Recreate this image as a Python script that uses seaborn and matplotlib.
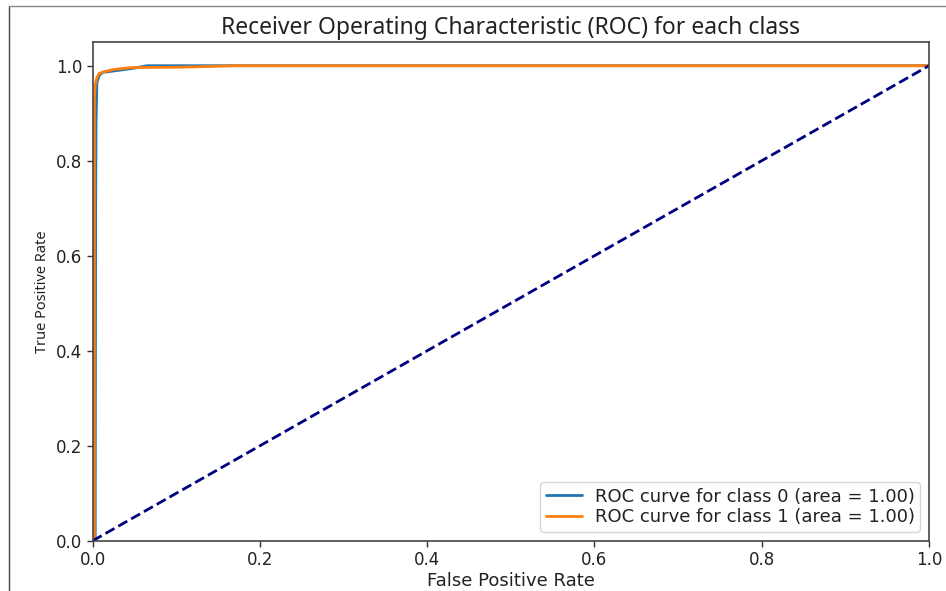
import matplotlib
matplotlib.use("Agg")
import matplotlib.pyplot as plt
import seaborn as sns
import pandas as pd
from matplotlib.lines import Line2D

# ROC points
fpr_class0 = [0.0, 0.003, 0.0035, 0.004, 0.005, 0.008, 0.012, 0.03, 0.05, 0.065, 0.10, 0.17, 1.0]
tpr_class0 = [0.0, 0.0, 0.70, 0.88, 0.965, 0.98, 0.986, 0.99, 0.995, 1.0, 1.0, 1.0, 1.0]
fpr_class1 = [0.0, 0.002, 0.002, 0.003, 0.005, 0.008, 0.015, 0.025, 0.045, 0.11, 0.17, 1.0]
tpr_class1 = [0.0, 0.0, 0.93, 0.96, 0.975, 0.984, 0.988, 0.992, 0.996, 0.997, 1.0, 1.0]
auc_values = [1.00, 1.00]
diag = [0.0, 1.0]

sns.set_style("white")
plt.rcParams['font.family'] = ['DejaVu Sans']
plt.rcParams['font.sans-serif'] = ['DejaVu Sans']

fig, ax = plt.subplots(figsize=(9.46, 5.91), dpi=100)
fig.subplots_adjust(left=0.098, right=0.982, top=0.929, bottom=0.085)

colors = ['#1f77b4', '#ff7f0e']
curves = [(fpr_class0, tpr_class0), (fpr_class1, tpr_class1)]
for i, (f, t) in enumerate(curves):
    d = pd.DataFrame({'fpr': f, 'tpr': t})
    sns.lineplot(data=d, x='fpr', y='tpr', ax=ax, color=colors[i], lw=2, sort=False,
                 estimator=None, label=f'ROC curve for class {i} (area = {auc_values[i]:.2f})')

ax.plot(diag, diag, color='navy', lw=2, linestyle='--')

ax.set_xlim(0.0, 1.0)
ax.set_ylim(0.0, 1.05)
ax.set_xticks([0.0, 0.2, 0.4, 0.6, 0.8, 1.0])
ax.set_yticks([0.0, 0.2, 0.4, 0.6, 0.8, 1.0])
ax.tick_params(axis='both', which='both', length=4, width=1, color='#333333',
               labelsize=12, labelcolor='#222222', direction='out', bottom=True, left=True)
for s in ax.spines.values():
    s.set_color('#444444')
    s.set_linewidth(1.2)

ax.set_xlabel('False Positive Rate', fontsize=13, color='#222222', labelpad=2)
ax.set_ylabel('True Positive Rate', fontsize=10.5, color='#222222', family='Noto Sans')
ax.set_title('Receiver Operating Characteristic (ROC) for each class', fontsize=16.5,
             color='#222222', family='Noto Sans', pad=6)
ax.legend(loc='lower right', fontsize=13, frameon=True, labelcolor='#222222',
          handlelength=2.0, handletextpad=0.7, borderaxespad=0.5,
          labelspacing=0.15, borderpad=0.3)

# thin frame lines of the screenshot
fig.add_artist(Line2D([9 / 946, 9 / 946], [0, 1 - 6 / 591], color='#444444', lw=1))
fig.add_artist(Line2D([9 / 946, 1], [1 - 6 / 591, 1 - 6 / 591], color='#888888', lw=1))

fig.savefig('out.png', dpi=100)
